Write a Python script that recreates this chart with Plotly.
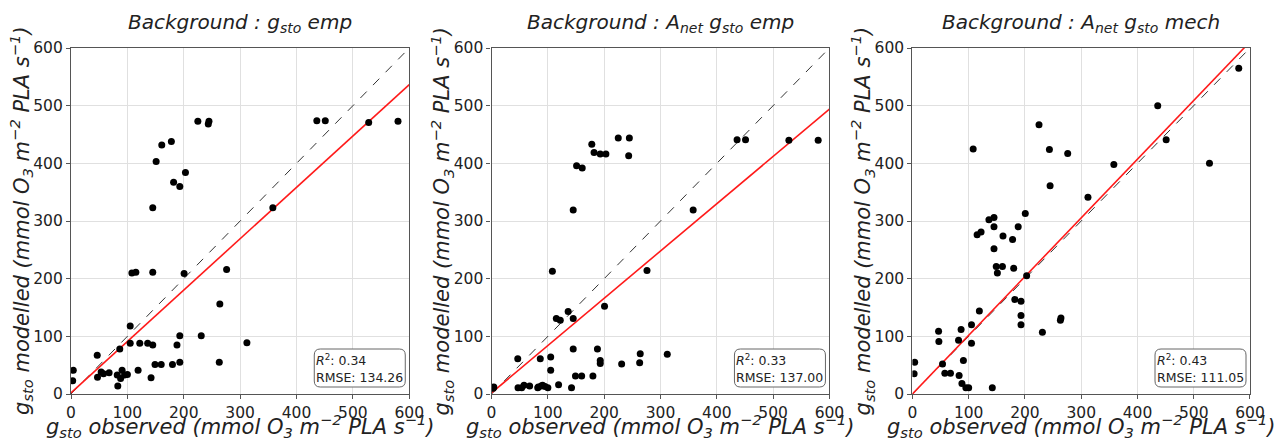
import plotly.graph_objects as go

# ---------------- data ----------------
observed = [3, 4, 46.5, 47, 53.5, 57.6, 67.6, 82, 83, 86.5, 88, 90.6, 95, 100,
            105, 105, 108, 115, 119, 122, 136, 142, 145, 145, 145, 149, 151,
            160, 161, 178, 180, 182, 188, 193, 193, 193, 200.6, 203, 225, 231,
            243.5, 244.7, 263, 264, 276, 312, 358, 436, 451, 528, 580]

modelled_gsto_emp = [23, 41, 67, 29, 38, 35, 37, 33, 14, 78, 27, 41, 33, 34,
                     118, 88, 210, 211, 41, 88, 88, 28, 323, 211, 85, 51, 403,
                     51, 432, 438, 51, 367, 85, 360, 101, 55, 209, 384, 473, 101,
                     468, 473, 55, 156, 216, 89, 323, 474, 474, 471, 473]

modelled_anet_emp = [10, 12, 61, 11, 11, 15, 14, 11, 12, 61, 14, 15, 13, 11,
                     64, 41, 213, 131, 16, 128, 143, 11, 319, 131, 78, 31, 396,
                     31, 392, 433, 31, 419, 78, 416, 58, 53, 152, 416, 444, 52,
                     413, 444, 54, 70, 214, 69, 319, 441, 441, 440, 440]

modelled_anet_mech = [35, 55, 109, 91, 52, 36, 36, 93, 32, 112, 18, 58, 11, 11,
                      120, 88, 425, 276, 144, 281, 302, 11, 306, 290, 252, 221, 210,
                      221, 274, 268, 218, 164, 290, 161, 136, 120, 313, 205, 467, 107,
                      424, 361, 128, 132, 417, 341, 398, 500, 441, 400, 565]

panel_titles = ["<i>Background : g<sub>sto</sub> emp</i>",
                "<i>Background : A<sub>net</sub> g<sub>sto</sub> emp</i>",
                "<i>Background : A<sub>net</sub> g<sub>sto</sub> mech</i>"]
r2_values = [0.34, 0.33, 0.43]
rmse_values = [134.26, 137.00, 111.05]
fit_slopes = [0.891, 0.820, 1.018]
fit_intercepts = [2.0, 2.0, 0.0]
axis_range = [0, 600]
tick_values = [0, 100, 200, 300, 400, 500, 600]

x_label = "<i>g<sub>sto</sub> observed (mmol O<sub>3</sub> m<sup>−2</sup> PLA s<sup>−1</sup>)</i>"
y_label = "<i>g<sub>sto</sub> modelled (mmol O<sub>3</sub> m<sup>−2</sup> PLA s<sup>−1</sup>)</i>"

series = [modelled_gsto_emp, modelled_anet_emp, modelled_anet_mech]

# ---------------- figure ----------------
FONT = "DejaVu Sans"
W, H = 1277, 441
ML, MR, MT, MB = 71, 21, 48, 47
domains = [[0.0, 0.28692], [0.35671, 0.64329], [0.71367, 1.0]]

# stats box geometry (pixels relative to the plot's bottom-right corner)
BX0, BX1, BY0, BY1, BR = -95, -4, 7, 45, 6
box_path = (f"M {BX0+BR},{BY0} L {BX1-BR},{BY0} Q {BX1},{BY0} {BX1},{BY0+BR} "
            f"L {BX1},{BY1-BR} Q {BX1},{BY1} {BX1-BR},{BY1} "
            f"L {BX0+BR},{BY1} Q {BX0},{BY1} {BX0},{BY1-BR} "
            f"L {BX0},{BY0+BR} Q {BX0},{BY0} {BX0+BR},{BY0} Z")

fig = go.Figure()
annotations = []
shapes = []

for i in range(3):
    xa = "x" if i == 0 else f"x{i+1}"
    ya = "y" if i == 0 else f"y{i+1}"
    # 1:1 line
    fig.add_trace(go.Scatter(x=axis_range, y=axis_range, mode="lines",
                             line=dict(color="#333333", width=1, dash="dash"),
                             xaxis=xa, yaxis=ya, showlegend=False, hoverinfo="skip"))
    # regression line
    fit_y = [fit_intercepts[i] + fit_slopes[i] * v for v in axis_range]
    fig.add_trace(go.Scatter(x=axis_range, y=fit_y, mode="lines",
                             line=dict(color="#ff1a1a", width=1.6),
                             xaxis=xa, yaxis=ya, showlegend=False, hoverinfo="skip"))
    # points
    fig.add_trace(go.Scatter(x=observed, y=series[i], mode="markers",
                             marker=dict(color="black", size=7),
                             xaxis=xa, yaxis=ya, showlegend=False))

    axis_common = dict(range=axis_range, tickvals=tick_values, showgrid=True,
                       gridcolor="#e0e0e0", gridwidth=1, zeroline=False,
                       showline=True, mirror=True, linecolor="#555555", linewidth=1.3,
                       ticks="outside", ticklen=4, tickcolor="#555555",
                       tickfont=dict(family=FONT, size=15.5, color="#222222"))
    fig.layout[("xaxis" if i == 0 else f"xaxis{i+1}")] = dict(
        domain=domains[i], anchor=ya, **axis_common)
    fig.layout[("yaxis" if i == 0 else f"yaxis{i+1}")] = dict(
        domain=[0, 1], anchor=xa, **axis_common)

    xd = f"{xa} domain"
    yd = f"{ya} domain"
    # title
    annotations.append(dict(text=panel_titles[i], xref=xd, yref=yd, x=0.5, y=1,
                            xanchor="center", yanchor="middle", yshift=25,
                            showarrow=False, font=dict(family=FONT, size=20, color="#222222")))
    # x label
    annotations.append(dict(text=x_label, xref=xd, yref=yd, x=0.5, y=0,
                            xanchor="center", yanchor="middle", yshift=-32,
                            showarrow=False, font=dict(family=FONT, size=21, color="#222222")))
    # y label
    annotations.append(dict(text=y_label, xref=xd, yref=yd, x=0, y=0.5,
                            xanchor="center", yanchor="middle", xshift=-50,
                            textangle=-90,
                            showarrow=False, font=dict(family=FONT, size=21, color="#222222")))
    # stats box (rounded frame + text)
    shapes.append(dict(type="path", xref=xd, yref=yd, xsizemode="pixel", ysizemode="pixel",
                       xanchor=1, yanchor=0, path=box_path,
                       line=dict(color="#666666", width=1), fillcolor="white", layer="above"))
    annotations.append(dict(text=f"<i>R</i><sup>2</sup>: {r2_values[i]:.2f}<br>RMSE: {rmse_values[i]:.2f}",
                            xref=xd, yref=yd, x=1, y=0, xanchor="center", yanchor="middle",
                            xshift=(BX0 + BX1) / 2, yshift=(BY0 + BY1) / 2,
                            align="left", showarrow=False,
                            font=dict(family=FONT, size=12.5, color="#222222")))

fig.update_layout(width=W, height=H, margin=dict(l=ML, r=MR, t=MT, b=MB),
                  paper_bgcolor="white", plot_bgcolor="white",
                  annotations=annotations, shapes=shapes, showlegend=False)

fig.write_html("out.html", config={"displayModeBar": False},
               post_script="document.body.style.margin='0';document.body.style.overflow='hidden';")
